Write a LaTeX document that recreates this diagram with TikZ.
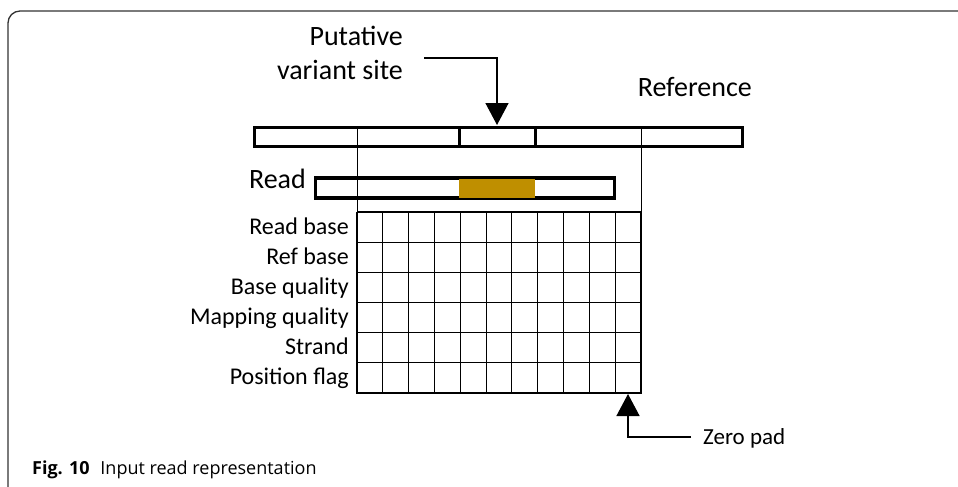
\documentclass[tikz,border=0pt]{standalone}
\usepackage{fontspec}
\setmainfont{Carlito}
\newfontfamily\capfont{Open Sans}
\usetikzlibrary{arrows.meta}
\definecolor{readgold}{RGB}{191,143,0}
\begin{document}
\begin{tikzpicture}[x=1pt,y=-1pt,
  bigtext/.style={font=\fontsize{28}{34}\selectfont, inner sep=0pt},
  rowlabel/.style={font=\fontsize{24}{26}\selectfont, inner sep=0pt, anchor=base east},
  barline/.style={line width=3pt},
  thinline/.style={line width=1pt},
  gridline/.style={line width=1.1pt},
  heavygrid/.style={line width=1.8pt},
  pointer/.style={line width=1.5pt, -{Triangle[length=22pt,width=23pt]}},
]
\useasboundingbox (0,0) rectangle (958,487);
\fill[white] (0,0) rectangle (958,487);
% frame
\draw[line width=1.3pt, black!80, rounded corners=12pt] (8,487) -- (8,11) -- (958,11);

% reference bar
\draw[thinline] (357,127) -- (357,393);
\draw[thinline] (641.5,127) -- (641.5,212);
\draw[barline] (254.5,127.5) rectangle (742.5,146.5);
\draw[barline] (459,127.5) -- (459,146.5);
\draw[barline] (535,127.5) -- (535,146.5);
\coordinate (site) at (497,125);

% read bar
\draw[line width=3.5pt] (315.5,178) rectangle (614.5,198);
\fill[readgold] (459,178.5) rectangle (535,197.5);

% grid
\foreach \i in {1,2,4,5,6,7,8,9,10,11}
  \draw[gridline] ({357+\i*25.818},212) -- ({357+\i*25.818},393);
\draw[heavygrid] (357,212) -- (357,393);
\draw[heavygrid] ({357+3*25.818},212) -- ({357+3*25.818},393);
\foreach \j in {0,...,5}
  \draw[gridline] (357,{212+\j*30.17}) -- (641.5,{212+\j*30.17});
\draw[heavygrid] (356,393) -- (642,393);
\coordinate (lastcol) at (628,394);

% labels
\node[bigtext, align=right, anchor=base east] (pvs) at (403,79) {Putative\\variant site};
\node[bigtext, anchor=base east] (reflab) at (752,96) {Reference};
\node[bigtext, anchor=base east] (readlab) at (306,188) {Read};
\node[rowlabel] (r1) at (349,{212+0.5*30.17+7}) {Read base};
\node[rowlabel] (r2) at (349,{212+1.5*30.17+7}) {Ref base};
\node[rowlabel] (r3) at (349,{212+2.5*30.17+7}) {Base quality};
\node[rowlabel] (r4) at (349,{212+3.5*30.17+7}) {Mapping quality};
\node[rowlabel] (r5) at (349,{212+4.5*30.17+7}) {Strand};
\node[rowlabel] (r6) at (349,{212+5.5*30.17+7}) {Position flag};
\node[font=\fontsize{23}{26}\selectfont, inner sep=0pt, anchor=base west] (zp) at (703,444) {Zero pad};

% pointers
\coordinate (pvsstart) at (424,58);
\draw[pointer] (pvsstart) -| (site);
\coordinate (zpstart) at (691,437);
\draw[pointer] (zpstart) -| (lastcol);

% caption
\node[font=\capfont\fontsize{18}{21}\selectfont, inner sep=0pt, anchor=base west] (cap) at (32,474) {\textbf{Fig. 10}\hspace{0.6em}Input read representation};
\end{tikzpicture}
\end{document}
